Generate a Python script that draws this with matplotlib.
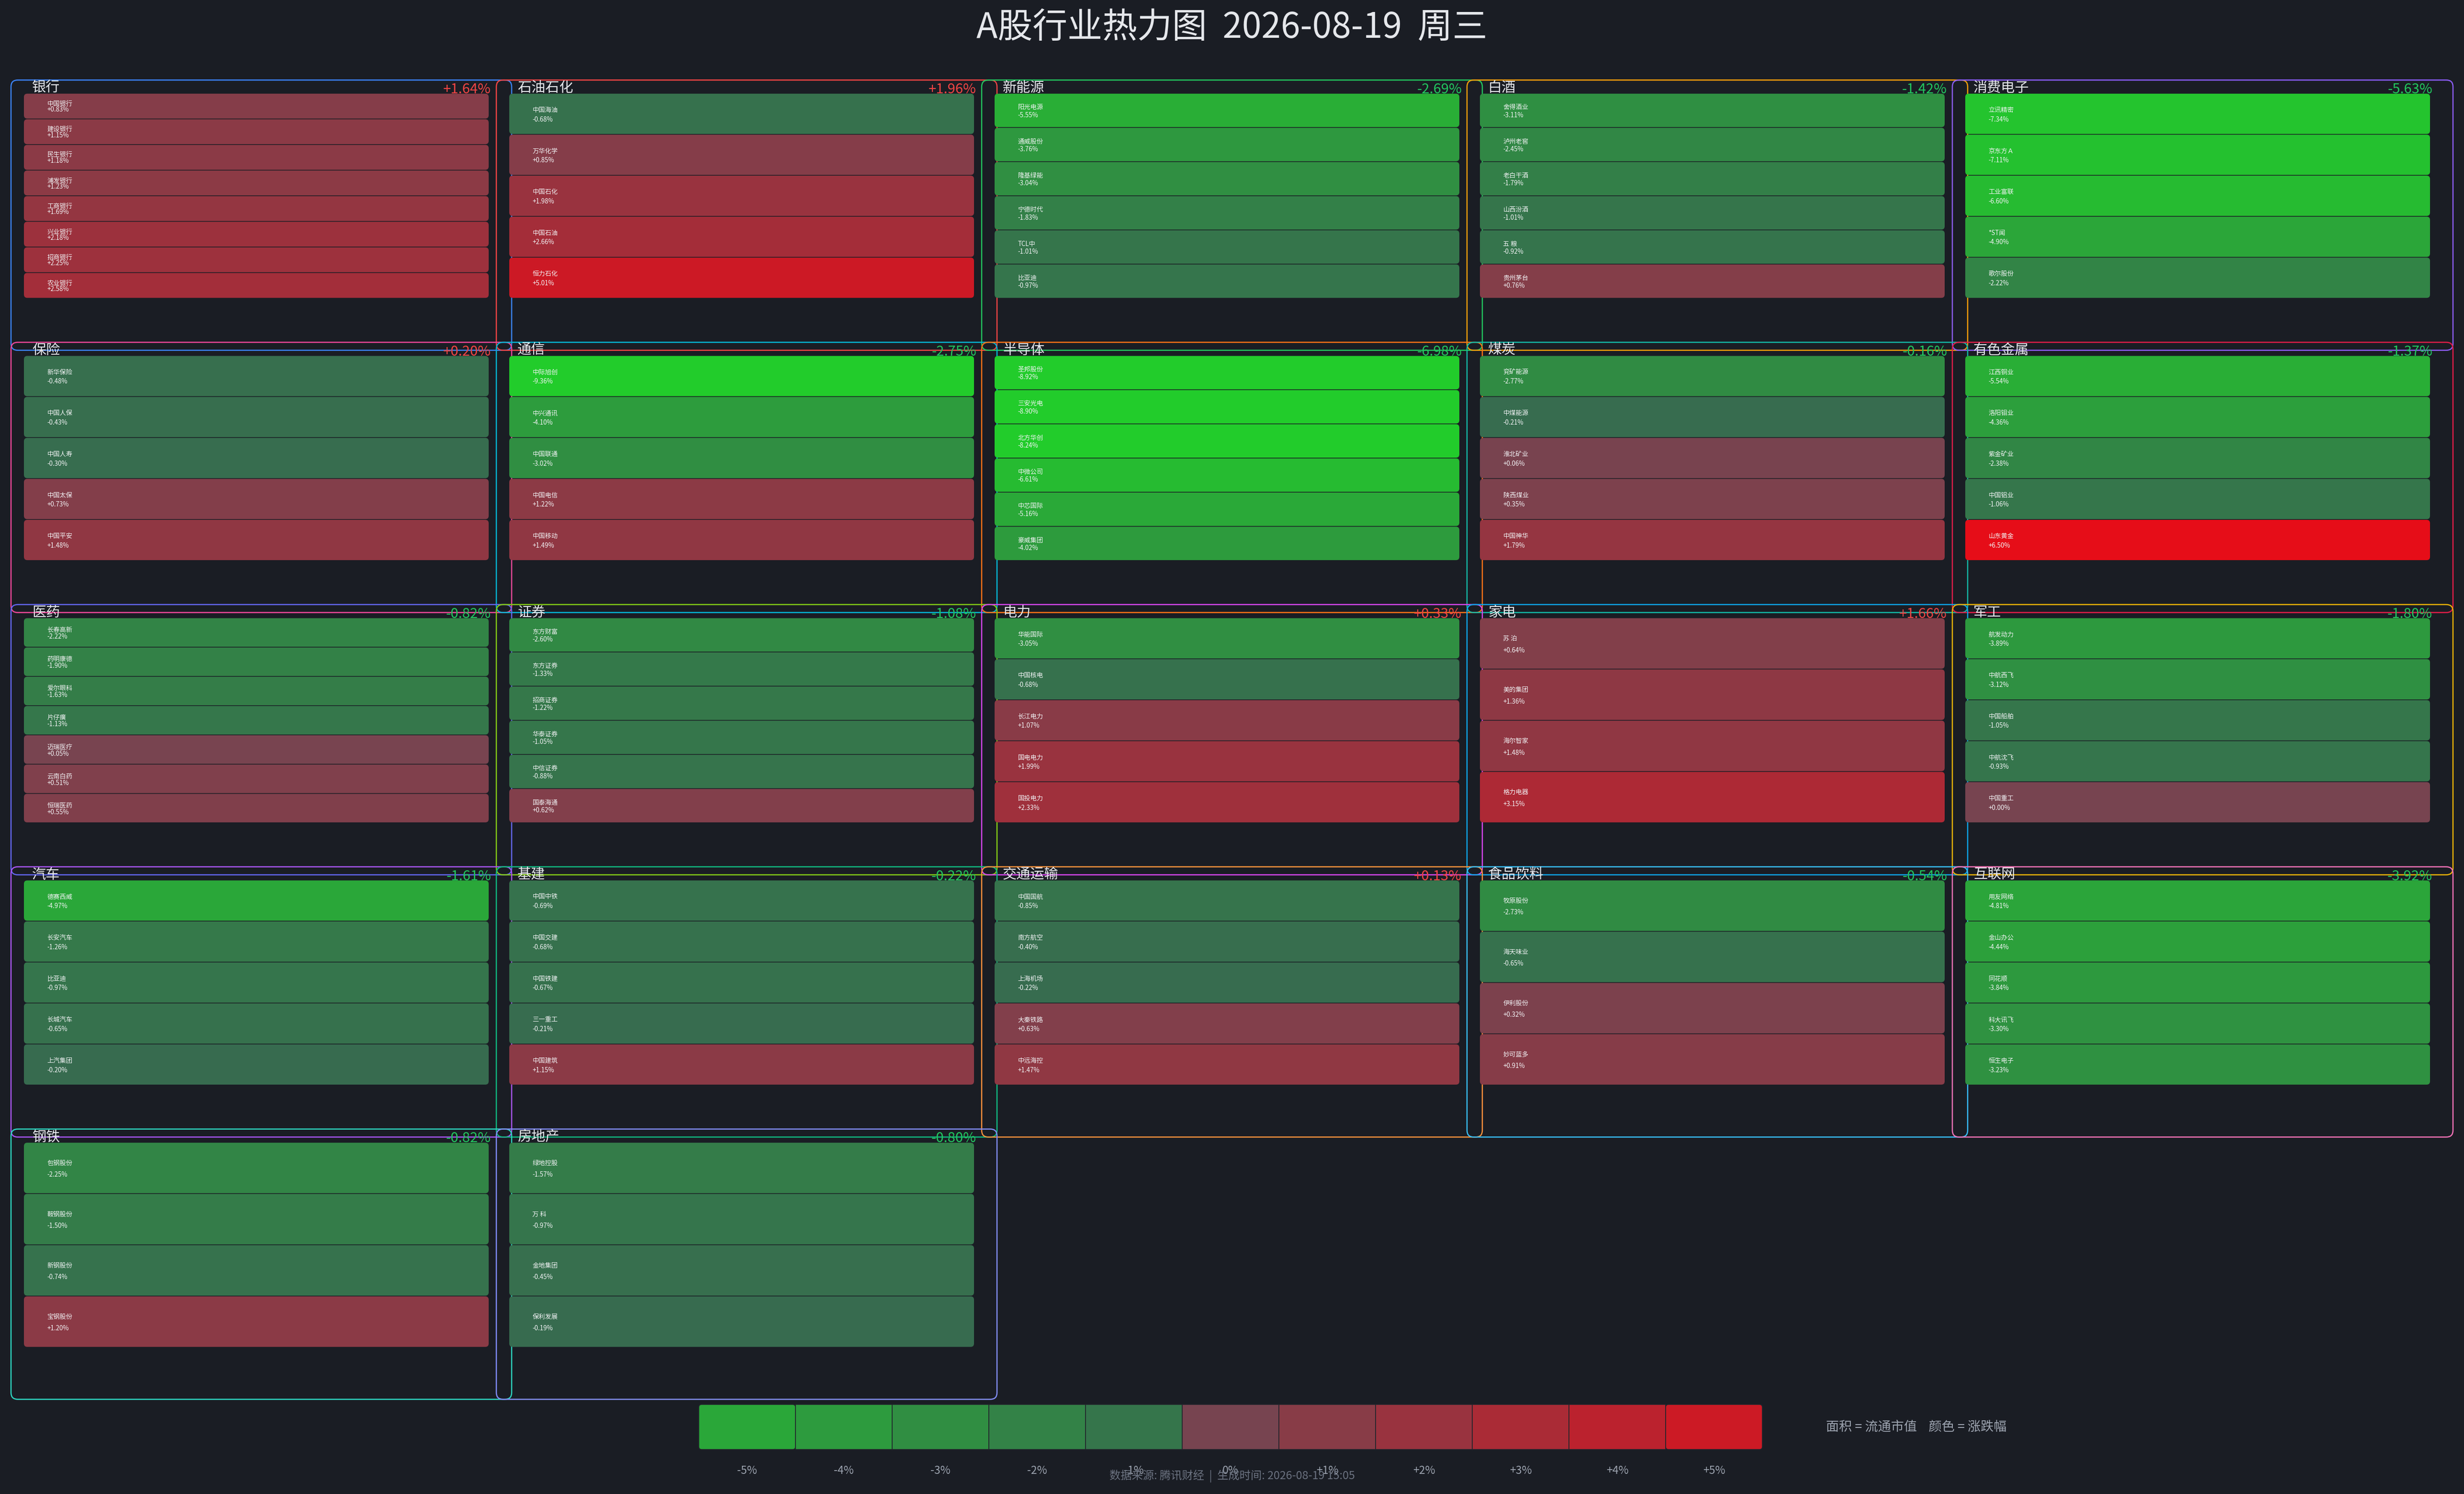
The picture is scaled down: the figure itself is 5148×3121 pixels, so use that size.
import matplotlib
matplotlib.use("Agg")
import matplotlib.pyplot as plt
from matplotlib.patches import FancyBboxPatch

plt.rcParams['font.family'] = ['Noto Sans CJK SC', 'DejaVu Sans']

# ---------------- data ----------------
title = "A股行业热力图  2026-08-19  周三"
footer = "数据来源: 腾讯财经  |  生成时间: 2026-08-19 15:05"
legend_note = "面积 = 流通市值    颜色 = 涨跌幅"

sector_names = ["银行", "石油石化", "新能源", "白酒", "消费电子",
                "保险", "通信", "半导体", "煤炭", "有色金属",
                "医药", "证券", "电力", "家电", "军工",
                "汽车", "基建", "交通运输", "食品饮料", "互联网",
                "钢铁", "房地产"]
sector_chg = [1.64, 1.96, -2.69, -1.42, -5.63,
              0.20, -2.75, -6.98, -0.16, -1.37,
              -0.82, -1.08, 0.33, 1.66, -1.80,
              -1.61, -0.22, 0.13, -0.54, -3.92,
              -0.82, -0.80]
sector_frame_colors = ["#3b82f6", "#ef4444", "#22c55e", "#f59e0b", "#8b5cf6",
                       "#ec4899", "#06b6d4", "#f97316", "#14b8a6", "#e11d48",
                       "#6366f1", "#84cc16", "#d946ef", "#0ea5e9", "#eab308",
                       "#a855f7", "#10b981", "#fb923c", "#38bdf8", "#f472b6",
                       "#2dd4bf", "#818cf8"]

bank_names = ["中国银行", "建设银行", "民生银行", "浦发银行", "工商银行", "兴业银行", "招商银行", "农业银行"]
bank_chg = [0.83, 1.15, 1.18, 1.23, 1.69, 2.18, 2.25, 2.58]
petro_names = ["中国海油", "万华化学", "中国石化", "中国石油", "恒力石化"]
petro_chg = [-0.68, 0.85, 1.98, 2.66, 5.01]
newenergy_names = ["阳光电源", "通威股份", "隆基绿能", "宁德时代", "TCL中", "比亚迪"]
newenergy_chg = [-5.55, -3.76, -3.04, -1.83, -1.01, -0.97]
liquor_names = ["舍得酒业", "泸州老窖", "老白干酒", "山西汾酒", "五 粮", "贵州茅台"]
liquor_chg = [-3.11, -2.45, -1.79, -1.01, -0.92, 0.76]
consumer_names = ["立讯精密", "京东方Ａ", "工业富联", "*ST闻", "歌尔股份"]
consumer_chg = [-7.34, -7.11, -6.60, -4.90, -2.22]
insure_names = ["新华保险", "中国人保", "中国人寿", "中国太保", "中国平安"]
insure_chg = [-0.48, -0.43, -0.30, 0.73, 1.48]
telecom_names = ["中际旭创", "中兴通讯", "中国联通", "中国电信", "中国移动"]
telecom_chg = [-9.36, -4.10, -3.02, 1.22, 1.49]
semi_names = ["圣邦股份", "三安光电", "北方华创", "中微公司", "中芯国际", "豪威集团"]
semi_chg = [-8.92, -8.90, -8.24, -6.61, -5.16, -4.02]
coal_names = ["兖矿能源", "中煤能源", "淮北矿业", "陕西煤业", "中国神华"]
coal_chg = [-2.77, -0.21, 0.06, 0.35, 1.79]
metal_names = ["江西铜业", "洛阳钼业", "紫金矿业", "中国铝业", "山东黄金"]
metal_chg = [-5.54, -4.36, -2.38, -1.06, 6.50]
pharma_names = ["长春高新", "药明康德", "爱尔眼科", "片仔癀", "迈瑞医疗", "云南白药", "恒瑞医药"]
pharma_chg = [-2.22, -1.90, -1.63, -1.13, 0.05, 0.51, 0.55]
broker_names = ["东方财富", "东方证券", "招商证券", "华泰证券", "中信证券", "国泰海通"]
broker_chg = [-2.60, -1.33, -1.22, -1.05, -0.88, 0.62]
power_names = ["华能国际", "中国核电", "长江电力", "国电电力", "国投电力"]
power_chg = [-3.05, -0.68, 1.07, 1.99, 2.33]
appliance_names = ["苏 泊", "美的集团", "海尔智家", "格力电器"]
appliance_chg = [0.64, 1.36, 1.48, 3.15]
defense_names = ["航发动力", "中航西飞", "中国船舶", "中航沈飞", "中国重工"]
defense_chg = [-3.89, -3.12, -1.05, -0.93, 0.00]
auto_names = ["德赛西威", "长安汽车", "比亚迪", "长城汽车", "上汽集团"]
auto_chg = [-4.97, -1.26, -0.97, -0.65, -0.20]
infra_names = ["中国中铁", "中国交建", "中国铁建", "三一重工", "中国建筑"]
infra_chg = [-0.69, -0.68, -0.67, -0.21, 1.15]
transport_names = ["中国国航", "南方航空", "上海机场", "大秦铁路", "中远海控"]
transport_chg = [-0.85, -0.40, -0.22, 0.63, 1.47]
food_names = ["牧原股份", "海天味业", "伊利股份", "妙可蓝多"]
food_chg = [-2.73, -0.65, 0.32, 0.91]
internet_names = ["用友网络", "金山办公", "同花顺", "科大讯飞", "恒生电子"]
internet_chg = [-4.81, -4.44, -3.84, -3.30, -3.23]
steel_names = ["包钢股份", "鞍钢股份", "新钢股份", "宝钢股份"]
steel_chg = [-2.25, -1.50, -0.74, 1.20]
estate_names = ["绿地控股", "万 科", "金地集团", "保利发展"]
estate_chg = [-1.57, -0.97, -0.45, -0.19]

legend_values = [-5, -4, -3, -2, -1, 0, 1, 2, 3, 4, 5]

stock_groups = [
    (bank_names, bank_chg), (petro_names, petro_chg), (newenergy_names, newenergy_chg),
    (liquor_names, liquor_chg), (consumer_names, consumer_chg),
    (insure_names, insure_chg), (telecom_names, telecom_chg), (semi_names, semi_chg),
    (coal_names, coal_chg), (metal_names, metal_chg),
    (pharma_names, pharma_chg), (broker_names, broker_chg), (power_names, power_chg),
    (appliance_names, appliance_chg), (defense_names, defense_chg),
    (auto_names, auto_chg), (infra_names, infra_chg), (transport_names, transport_chg),
    (food_names, food_chg), (internet_names, internet_chg),
    (steel_names, steel_chg), (estate_names, estate_chg),
]

# ---------------- style / layout ----------------
BG = "#1a1d24"
W, H = 5148, 3121
NCOL = 5
COL_X0, COL_STEP, CELL_W = 50, 1014, 971
ROW_Y0, ROW_STEP, AREA_H = 196, 547.8, 428
FRAME_DX, FRAME_W = -27, 1046
FRAME_DY, FRAME_H = -28.5, 564.5
CELL_GAP = 1.5


def chg_color(v):
    t = min(abs(v) / 8.0, 1.0)
    if v >= 0:
        base, full = (0x77, 0x44, 0x50), (0xff, 0x00, 0x0b)
    else:
        base, full = (0x38, 0x69, 0x50), (0x22, 0xcc, 0x2b)
    return tuple((b + (f - b) * t) / 255.0 for b, f in zip(base, full))


fig = plt.figure(figsize=(W / 300, (H + 0.3) / 300), dpi=300, facecolor=BG)
ax = fig.add_axes([0, 0, 1, 1])
ax.set_facecolor(BG)
ax.set_xlim(0, W)
ax.set_ylim(H, 0)
ax.axis("off")

ax.text(W / 2, 58, title, ha="center", va="center", fontsize=17.5, color="#e5e7eb")

for k, (sname, schg, fcol, (names, chgs)) in enumerate(
        zip(sector_names, sector_chg, sector_frame_colors, stock_groups)):
    c, r = k % NCOL, k // NCOL
    x0 = COL_X0 + COL_STEP * c
    y0 = ROW_Y0 + ROW_STEP * r
    # sector frame
    ax.add_patch(FancyBboxPatch((x0 + FRAME_DX, y0 + FRAME_DY), FRAME_W, FRAME_H,
                                boxstyle="round,pad=0,rounding_size=14",
                                fill=False, ec=fcol, lw=0.6, zorder=1))
    # header
    ax.text(x0 + 17, y0 - 4, sname, ha="left", va="baseline", fontsize=7,
            color="#e5e7eb", zorder=4)
    ax.text(x0 + 976, y0 - 1, f"{schg:+.2f}%", ha="right", va="baseline", fontsize=7,
            color="#ef4444" if schg >= 0 else "#22c55e", zorder=4)
    # stocks
    n = len(names)
    ch = AREA_H / n
    for i, (nm, v) in enumerate(zip(names, chgs)):
        cy = y0 + ch * i
        ax.add_patch(FancyBboxPatch((x0, cy), CELL_W, ch - CELL_GAP,
                                    boxstyle="round,pad=0,rounding_size=7",
                                    fc=chg_color(v), ec="none", zorder=2))
        ax.text(x0 + 48.5, cy + 0.395 * ch, nm, ha="left", va="center",
                fontsize=3.2, color="#f3f4f6", zorder=3)
        ax.text(x0 + 48.5, cy + 0.625 * ch, f"{v:+.2f}%", ha="left", va="center",
                fontsize=3.2, color="#f3f4f6", zorder=3)

# ---------------- legend ----------------
LX0, LW, LY0, LH = 1460, 202, 2934, 94
for j, v in enumerate(legend_values):
    lx = LX0 + LW * j
    rs = 6 if j in (0, len(legend_values) - 1) else 0
    ax.add_patch(FancyBboxPatch((lx, LY0), LW, LH,
                                boxstyle="round,pad=0,rounding_size=%d" % rs,
                                fc=chg_color(v), ec="#22252c", lw=0.4, zorder=2))
    lab = f"{v:+d}%" if v > 0 else f"{v:d}%"
    ax.text(lx + LW / 2, 3072, lab, ha="center", va="center", fontsize=5.5,
            color="#9ca3af", zorder=3)

ax.text(3815, 2981, legend_note, ha="left", va="center", fontsize=6.5, color="#9ca3af")
ax.text(W / 2, 3083, footer, ha="center", va="center", fontsize=5.6, color="#6b7280", zorder=4)

fig.savefig("out.png", dpi=300, facecolor=BG)
